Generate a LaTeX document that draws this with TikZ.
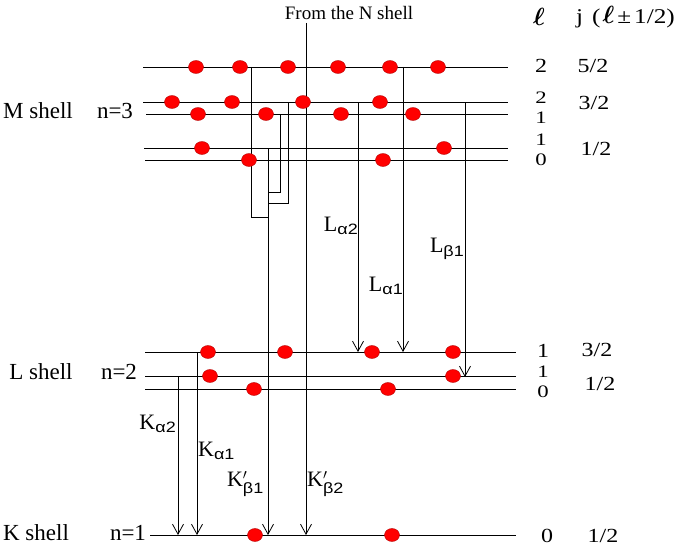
\documentclass[tikz,border=0pt]{standalone}
\usepackage{fontspec}
\usepackage{amsmath}
\usepackage{bm}
\setmainfont{Liberation Serif}
\newfontfamily\subfont{Liberation Sans}[FakeStretch=1.2]
\newfontfamily\qfont{Liberation Serif}[FakeStretch=1.2]
\newfontfamily\qsfont{Liberation Serif}[FakeStretch=1.3]
\usetikzlibrary{arrows.meta}
\newcommand{\trname}[2]{#1\raisebox{-0.35ex}{\subfont\fontsize{15}{15}\selectfont #2}}
\newcommand{\trnamep}[2]{#1${}^{\prime}_{\text{\subfont\fontsize{15}{15}\selectfont #2}}$}
\tikzset{
	level/.style={line width=0.9pt},
	feed/.style={line width=0.8pt},
	trans/.style={line width=0.8pt,-{Straight Barb[length=10pt,width=11pt]}},
	electron/.style={fill=red,draw=red!70!black,line width=0.4pt},
	shelllbl/.style={font=\fontsize{23}{23}\selectfont},
	qnum/.style={font=\qfont\fontsize{20}{20}\selectfont,inner sep=0pt},
	qstack/.style={qnum,align=center,font=\qsfont\fontsize{17.5}{19.6}\selectfont},
	trlbl/.style={font=\fontsize{22}{22}\selectfont,inner sep=1pt},
}

\begin{document}
\begin{tikzpicture}[x=1pt,y=-1pt]
		\useasboundingbox (0,0) rectangle (696,551);
		% energy levels
		\coordinate (m1) at (143,67);  \coordinate (m1e) at (508,67);
		\coordinate (m2) at (143,102); \coordinate (m2e) at (508,102);
		\coordinate (m3) at (146,114); \coordinate (m3e) at (508,114);
		\coordinate (m4) at (144,148); \coordinate (m4e) at (508,148);
		\coordinate (m5) at (145,160); \coordinate (m5e) at (508,160);
		\coordinate (l1) at (145,352); \coordinate (l1e) at (516,352);
		\coordinate (l2) at (145,376); \coordinate (l2e) at (516,376);
		\coordinate (l3) at (145,389); \coordinate (l3e) at (516,389);
		\coordinate (k1) at (150,535); \coordinate (k1e) at (516,535);
		\foreach \lv in {m1,m2,m3,m4,m5,l1,l2,l3,k1}
			\draw[level] (\lv) -- (\lv e);
		% feeding lines into K'beta1
		\coordinate (f1) at (251,67);  \coordinate (f1b) at (251,217);
		\coordinate (f2) at (280,114); \coordinate (f2b) at (280,192);
		\coordinate (f3) at (288,102); \coordinate (f3b) at (288,203);
		\coordinate (kb1) at (268,148); \coordinate (kb1e) at (268,535);
		\draw[feed] (f1) -- (f1b) -- (f1b -| kb1);
		\draw[feed] (f2) -- (f2b) -- (f2b -| kb1);
		\draw[feed] (f3) -- (f3b) -- (f3b -| kb1);
		% transitions
		\coordinate (nsh) at (306,23);  \coordinate (nshe) at (306,535);
		\coordinate (la2) at (358,102); \coordinate (la2e) at (358,352);
		\coordinate (la1) at (403,67);  \coordinate (la1e) at (403,352);
		\coordinate (lb1) at (465,102); \coordinate (lb1e) at (465,377);
		\coordinate (ka2) at (178,376); \coordinate (ka2e) at (178,535);
		\coordinate (ka1) at (197,352); \coordinate (ka1e) at (197,535);
		\draw[trans] (nsh) -- (nshe);
		\draw[trans] (kb1) -- (kb1e);
		\draw[trans] (la2) -- (la2e);
		\draw[trans] (la1) -- (la1e);
		\draw[trans] (lb1) -- (lb1e);
		\draw[trans] (ka2) -- (ka2e);
		\draw[trans] (ka1) -- (ka1e);
		% electrons
		\foreach \x/\y in {196/67,240/67,288/67,338/67,390/67,438/67,
			172/102,232/102,303/102,380/102,198/114,266/114,341/114,413/114,
			202/148,444/148,249/160,383/160,
			208/352,285/352,372/352,453/352,210/376,453/376,254/389,388/389,
			255/535,392/535}
			\draw[electron] (\x,\y) ellipse (7.5pt and 6.5pt);
		% labels
		\node[font=\fontsize{19}{19}\selectfont] (ntop) at (349,13) {From the N shell};
		\node[trlbl,anchor=east] (tla2) at (359,226) {\trname{L}{α2}};
		\node[trlbl,anchor=east] (tla1) at (404,286) {\trname{L}{α1}};
		\node[trlbl,anchor=east] (tlb1) at (465,249) {\trname{L}{β1}};
		\node[trlbl,anchor=east] (tka2) at (177,424) {\trname{K}{α2}};
		\node[trlbl,anchor=west] (tka1) at (197,451) {\trname{K}{α1}};
		\node[trlbl,anchor=east] (tkb1) at (265,484) {\trnamep{K}{β1}};
		\node[trlbl,anchor=west] (tkb2) at (306,484) {\trnamep{K}{β2}};
		\node[shelllbl] (ms) at (38,111) {M shell};
		\node[shelllbl] (mn) at (115,111) {n=3};
		\node[shelllbl] (ls) at (41,372) {L shell};
		\node[shelllbl] (ln) at (119,372) {n=2};
		\node[shelllbl] (ks) at (36,533) {K shell};
		\node[shelllbl] (kn) at (128,533) {n=1};
		% quantum numbers
		\node[qnum,font=\fontsize{24}{24}\selectfont] (lhead) at (539,17) {$\bm{\ell}$};
		\node[qnum,anchor=west,font=\qfont\fontsize{21}{21}\selectfont] (jhead) at (576,17)
			{j\hspace{9pt}(\hspace{2pt}{\fontsize{25}{25}\selectfont$\bm{\ell}$}\hspace{3pt}±\hspace{3pt}1/2)};
		\node[qnum] (q1) at (541,66) {2};  \node[qnum] (j1) at (593,66) {5/2};
		\node[qstack] (q2) at (541,108) {2\\1};
		\node[qnum] (j2) at (594,103) {3/2};
		\node[qstack] (q4) at (541,150) {1\\0};
		\node[qnum] (j3) at (596,149) {1/2};
		\node[qnum] (q6) at (543,351) {1}; \node[qnum] (j4) at (597,350) {3/2};
		\node[qstack] (q7) at (543,382) {1\\0};
		\node[qnum] (j5) at (600,384) {1/2};
		\node[qnum] (q9) at (547,536) {0}; \node[qnum] (j6) at (603,536) {1/2};
	\end{tikzpicture}
\end{document}
